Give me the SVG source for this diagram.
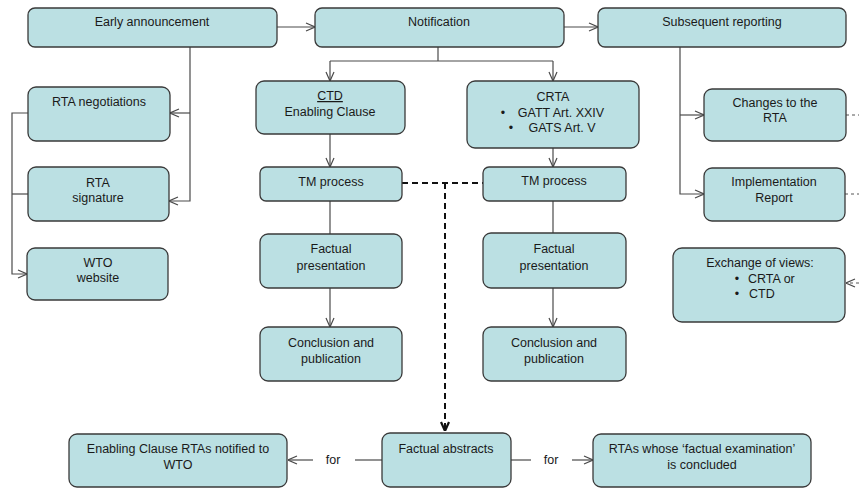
<svg xmlns="http://www.w3.org/2000/svg" width="859" height="488" viewBox="0 0 859 488">
<style>
.b{fill:#BBE0E3;stroke:#3a3a3a;stroke-width:1.3}
text{font-family:"Liberation Sans",Arial,sans-serif;font-size:12.5px;fill:#1a1a1a;text-anchor:middle}
text.l{text-anchor:start}
.c{fill:none;stroke:#4a4a4a;stroke-width:1.2}
.d{fill:none;stroke:#111;stroke-width:2;stroke-dasharray:6,4}
.s{fill:none;stroke:#555;stroke-width:1;stroke-dasharray:3,3}
</style>
<defs>
<marker id="a" viewBox="0 0 10 10" refX="10" refY="5" markerWidth="10" markerHeight="10" markerUnits="userSpaceOnUse" orient="auto">
<path d="M1,1 L10,5 L1,9" fill="none" stroke="#4a4a4a" stroke-width="1.2"/>
</marker>
<marker id="ad" viewBox="0 0 10 10" refX="10" refY="5" markerWidth="10" markerHeight="10" markerUnits="userSpaceOnUse" orient="auto">
<path d="M1,1 L10,5 L1,9" fill="none" stroke="#111" stroke-width="2.2"/>
</marker>
</defs>
<g id="connectors">
<path class="c" d="M277,27 H315" marker-end="url(#a)"/>
<path class="c" d="M564,27 H598" marker-end="url(#a)"/>
<path class="c" d="M190,47 V201 H169" marker-end="url(#a)"/>
<path class="c" d="M190,113 H170" marker-end="url(#a)"/>
<path class="c" d="M28,113 H12 V274 H27" marker-end="url(#a)"/>
<path class="c" d="M28,194 H12"/>
<path class="c" d="M438,47 V61"/>
<path class="c" d="M330,61 H553"/>
<path class="c" d="M330,61 V81" marker-end="url(#a)"/>
<path class="c" d="M553,61 V81" marker-end="url(#a)"/>
<path class="c" d="M330,134 V167" marker-end="url(#a)"/>
<path class="c" d="M330,201 V234"/>
<path class="c" d="M330,288 V327" marker-end="url(#a)"/>
<path class="c" d="M553,148 V167" marker-end="url(#a)"/>
<path class="c" d="M553,201 V233"/>
<path class="c" d="M553,288 V327" marker-end="url(#a)"/>
<path class="c" d="M680,47 V194 H704" marker-end="url(#a)"/>
<path class="c" d="M680,115 H704" marker-end="url(#a)"/>
<path class="d" d="M402,183 H483"/>
<path class="d" d="M445,183 V431" marker-end="url(#ad)"/>
<path class="c" d="M313,460 H288" marker-end="url(#a)"/>
<path class="c" d="M355,460 H382"/>
<path class="c" d="M511,460 H531"/>
<path class="c" d="M572,460 H593" marker-end="url(#a)"/>
<path class="s" d="M846,115 H859"/>
<path class="s" d="M845,194 H859"/>
<path class="s" d="M859,283 H846" marker-end="url(#a)"/>
<text x="333" y="464">for</text>
<text x="551" y="464">for</text>
</g>
<g id="early"><rect class="b" x="28" y="8" width="249" height="39" rx="7"/><text x="152" y="26">Early announcement</text></g>
<g id="notification"><rect class="b" x="315" y="8" width="249" height="39" rx="7"/><text x="439" y="26">Notification</text></g>
<g id="subsequent"><rect class="b" x="598" y="8" width="248" height="39" rx="7"/><text x="722" y="26">Subsequent reporting</text></g>
<g id="negotiations"><rect class="b" x="28" y="87" width="142" height="54" rx="8"/><text x="99" y="106">RTA negotiations</text></g>
<g id="signature"><rect class="b" x="28" y="167" width="141" height="54" rx="8"/><text x="98" y="187">RTA</text><text x="98" y="202">signature</text></g>
<g id="website"><rect class="b" x="27" y="248" width="141" height="52" rx="8"/><text x="98" y="267">WTO</text><text x="98" y="282">website</text></g>
<g id="ctd"><rect class="b" x="256" y="81" width="149" height="53" rx="8"/><text x="330" y="100" text-decoration="underline">CTD</text><text x="330" y="116">Enabling Clause</text></g>
<g id="crta"><rect class="b" x="467" y="81" width="172" height="67" rx="8"/><text x="553" y="101">CRTA</text><text x="503" y="117">•</text><text x="561" y="117">GATT Art. XXIV</text><text x="511" y="132">•</text><text x="562" y="132">GATS Art. V</text></g>
<g id="tm-left"><rect class="b" x="260" y="167" width="142" height="34" rx="6"/><text x="331" y="186">TM process</text></g>
<g id="fp-left"><rect class="b" x="260" y="234" width="142" height="54" rx="8"/><text x="331" y="253">Factual</text><text x="331" y="270">presentation</text></g>
<g id="cp-left"><rect class="b" x="260" y="327" width="142" height="54" rx="8"/><text x="331" y="347">Conclusion and</text><text x="331" y="363">publication</text></g>
<g id="tm-right"><rect class="b" x="483" y="167" width="143" height="34" rx="6"/><text x="554" y="185">TM process</text></g>
<g id="fp-right"><rect class="b" x="483" y="233" width="143" height="55" rx="8"/><text x="554" y="253">Factual</text><text x="554" y="270">presentation</text></g>
<g id="cp-right"><rect class="b" x="483" y="327" width="143" height="54" rx="8"/><text x="554" y="347">Conclusion and</text><text x="554" y="363">publication</text></g>
<g id="changes"><rect class="b" x="704" y="89" width="142" height="52" rx="8"/><text x="775" y="107">Changes to the</text><text x="775" y="122">RTA</text></g>
<g id="implementation"><rect class="b" x="704" y="168" width="141" height="53" rx="8"/><text x="774" y="186">Implementation</text><text x="774" y="202">Report</text></g>
<g id="exchange"><rect class="b" x="673" y="248" width="172" height="74" rx="9"/><text x="760" y="267">Exchange of views:</text><text x="737" y="283">•</text><text class="l" x="748" y="283">CRTA  or</text><text x="737" y="298">•</text><text class="l" x="749" y="298">CTD</text></g>
<g id="ec-rtas"><rect class="b" x="69" y="434" width="218" height="53" rx="8"/><text x="178" y="453">Enabling Clause RTAs notified to</text><text x="178" y="469">WTO</text></g>
<g id="abstracts"><rect class="b" x="382" y="433" width="129" height="54" rx="8"/><text x="446" y="453">Factual abstracts</text></g>
<g id="concluded"><rect class="b" x="593" y="434" width="218" height="53" rx="8"/><text x="702" y="453">RTAs whose ‘factual examination’</text><text x="702" y="469">is concluded</text></g>
</svg>
